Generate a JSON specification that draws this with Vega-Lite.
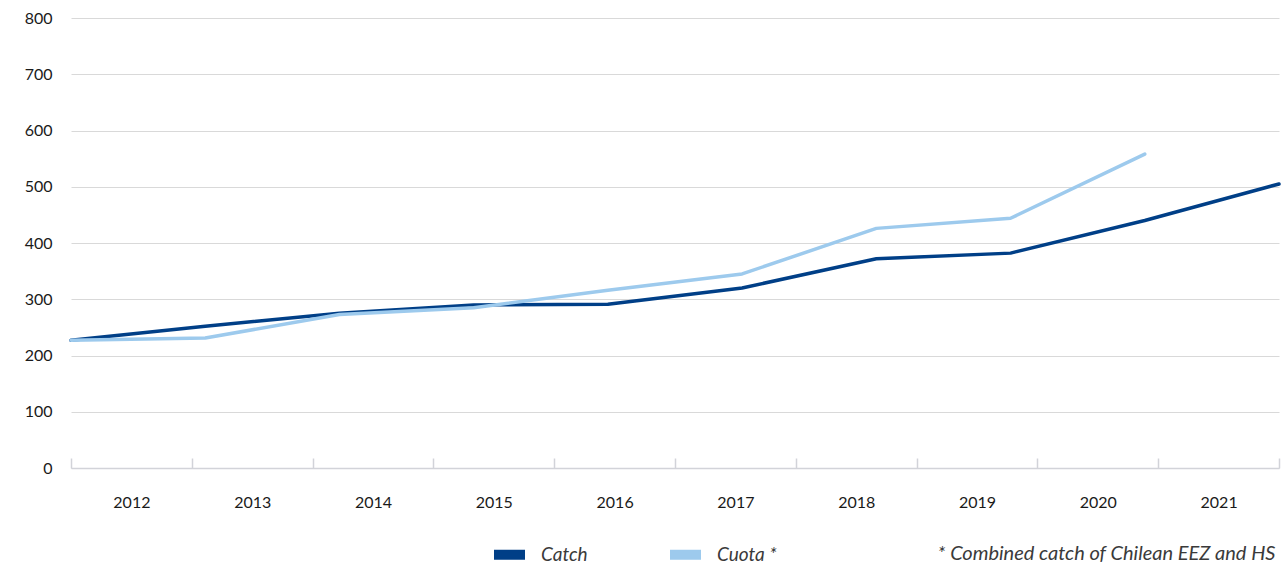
{
  "$schema": "https://vega.github.io/schema/vega-lite/v6.json",
  "width": 1208,
  "height": 450,
  "autosize": {"type": "none"},
  "padding": {"left": 71, "top": 18, "right": 9, "bottom": 100},
  "background": "white",
  "config": {"font": "Lato", "view": {"stroke": null}},
  "data": {
    "values": [
      {"Year": 2012, "Series": "Catch", "Value": 227},
      {"Year": 2013, "Series": "Catch", "Value": 252},
      {"Year": 2014, "Series": "Catch", "Value": 275},
      {"Year": 2015, "Series": "Catch", "Value": 290},
      {"Year": 2016, "Series": "Catch", "Value": 291},
      {"Year": 2017, "Series": "Catch", "Value": 320},
      {"Year": 2018, "Series": "Catch", "Value": 372},
      {"Year": 2019, "Series": "Catch", "Value": 382},
      {"Year": 2020, "Series": "Catch", "Value": 440},
      {"Year": 2021, "Series": "Catch", "Value": 505},
      {"Year": 2012, "Series": "Cuota *", "Value": 227},
      {"Year": 2013, "Series": "Cuota *", "Value": 231},
      {"Year": 2014, "Series": "Cuota *", "Value": 273},
      {"Year": 2015, "Series": "Cuota *", "Value": 285},
      {"Year": 2016, "Series": "Cuota *", "Value": 316},
      {"Year": 2017, "Series": "Cuota *", "Value": 345},
      {"Year": 2018, "Series": "Cuota *", "Value": 426},
      {"Year": 2019, "Series": "Cuota *", "Value": 444},
      {"Year": 2020, "Series": "Cuota *", "Value": 558}
    ]
  },
  "layer": [
    {
      "transform": [{"filter": "datum.Series === 'Catch'"}],
      "mark": {"type": "bar", "opacity": 0},
      "encoding": {
        "x": {
          "field": "Year",
          "type": "ordinal",
          "scale": {"paddingInner": 0, "paddingOuter": 0},
          "axis": {
            "title": "* Combined catch of Chilean EEZ and HS",
            "titleAnchor": "end",
            "titleAlign": "right",
            "titleFont": "Lato",
            "titleFontSize": 20,
            "titleFontStyle": "italic",
            "titleFontWeight": "normal",
            "titleColor": "#3a3a3a",
            "titlePadding": 33,
            "titleX": 1204,
            "labelAngle": 0,
            "tickBand": "extent",
            "tickSize": -10,
            "tickWidth": 1.5,
            "tickColor": "#d2d3d9",
            "domainColor": "#d2d3d9",
            "domainWidth": 1.5,
            "labelFontSize": 16,
            "labelColor": "#1a1a1a",
            "labelPadding": 36,
            "grid": false
          }
        },
        "y": {
          "field": "Value",
          "type": "quantitative",
          "scale": {"domain": [0, 800], "nice": false},
          "axis": {
            "title": null,
            "values": [0, 100, 200, 300, 400, 500, 600, 700, 800],
            "ticks": false,
            "domain": false,
            "grid": true,
            "gridColor": "#d9d9d9",
            "gridWidth": 1,
            "labelFontSize": 16,
            "labelColor": "#1a1a1a",
            "labelPadding": 19
          }
        }
      }
    },
    {
      "mark": {"type": "line", "strokeWidth": 3.5, "strokeCap": "round", "strokeJoin": "round"},
      "encoding": {
        "x": {
          "field": "Year",
          "type": "quantitative",
          "scale": {"domain": [2012, 2021], "nice": false, "zero": false},
          "axis": null
        },
        "y": {
          "field": "Value",
          "type": "quantitative",
          "scale": {"domain": [0, 800], "nice": false},
          "axis": {
            "title": null,
            "values": [0, 100, 200, 300, 400, 500, 600, 700, 800],
            "ticks": false,
            "domain": false,
            "grid": true,
            "gridColor": "#d9d9d9",
            "gridWidth": 1,
            "labelFontSize": 16,
            "labelColor": "#1a1a1a",
            "labelPadding": 19
          }
        },
        "color": {
          "field": "Series",
          "type": "nominal",
          "scale": {"domain": ["Catch", "Cuota *"], "range": ["#003f87", "#9dcaed"]},
          "legend": {
            "orient": "none",
            "legendX": 418,
            "legendY": 516,
            "direction": "horizontal",
            "title": null,
            "symbolType": "stroke",
            "symbolSize": 961,
            "symbolStrokeWidth": 10,
            "labelFontSize": 19,
            "labelFont": "Lato",
            "labelFontStyle": "italic",
            "labelColor": "#3a3a3a",
            "labelOffset": 11,
            "columnPadding": 62,
            "padding": 0
          }
        }
      }
    }
  ],
  "resolve": {"scale": {"x": "independent"}}
}
